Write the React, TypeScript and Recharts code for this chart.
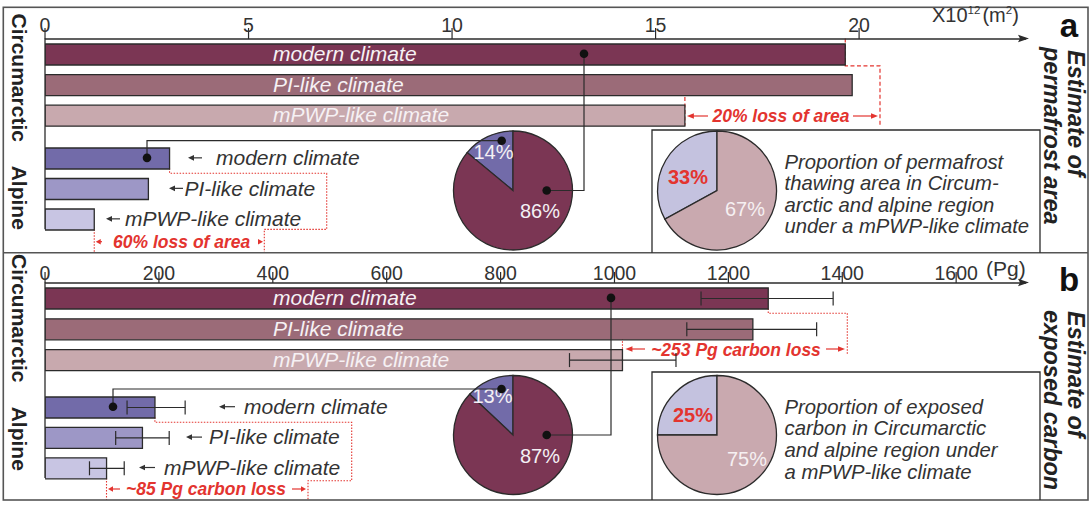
import React from 'react';
import { BarChart, Bar, XAxis, YAxis, Cell, ErrorBar, PieChart, Pie } from 'recharts';

// ---- data ----
const climates = ['modern climate', 'PI-like climate', 'mPWP-like climate'];

// a: permafrost area, x10^12 m2
const areaCircum = [19.66, 19.83, 15.72];
const areaAlpine = [3.06, 2.54, 1.21];
const areaTicks = [0, 5, 10, 15, 20];

// b: exposed carbon, Pg (bar value + error range)
const carbonCircum = [1270, 1243, 1014];
const carbonCircumLow = [1152, 1127, 921];
const carbonCircumHigh = [1384, 1355, 1108];
const carbonAlpine = [193, 171, 108];
const carbonAlpineLow = [144, 124, 78];
const carbonAlpineHigh = [246, 218, 139];
const carbonTicks = [0, 200, 400, 600, 800, 1000, 1200, 1400, 1600];

// pies: [alpine, circumarctic] and [thawed / exposed, rest]
const areaShare = [14, 86];
const areaThawed = [33, 67];
const carbonShare = [13, 87];
const carbonExposed = [25, 75];

// ---- styling / layout ----
const W = 1092;
const H = 508;
const FONT = '"Liberation Sans", Arial, Helvetica, sans-serif';
const INK = '#2b2b2b';
const RED = '#e3342f';
const circumColors = ['#7b3654', '#9b6b78', '#c8a9ae'];
const alpineColors = ['#726ba9', '#9d97c6', '#c8c5e3'];
const shareColors = ['#726ba9', '#7b3654'];
const insetColors = ['#c4c2df', '#c9a9af'];

const PLOT_L = 45;
const PLOT_R = 1026;
const PLOT_W = PLOT_R - PLOT_L;
const AREA_MAX = 24.1;
const CARBON_MAX = 1722.6;
const BAR_H = 21;
const AXIS_H = 30;
const DIVIDER = 252.7;
const BOTTOM = 500;

type Group = { top: number; band: number };
const A_CIRC: Group = { top: 38.5, band: 30.6 };
const A_ALP: Group = { top: 142.6, band: 30.5 };
const B_CIRC: Group = { top: 282.5, band: 30.8 };
const B_ALP: Group = { top: 391.5, band: 30.4 };

const xArea = (v: number) => PLOT_L + (v / AREA_MAX) * PLOT_W;
const xCarbon = (v: number) => PLOT_L + (v / CARBON_MAX) * PLOT_W;
const mid = (g: Group, i: number) => g.top + (i + 0.5) * g.band;
const barBot = (g: Group, i: number) => mid(g, i) + BAR_H / 2;

const PIE_R = 59.5;
const pieA = { cx: 513, cy: 190.5 };
const insetA = { cx: 717, cy: 190.5 };
const pieB = { cx: 513, cy: 435 };
const insetB = { cx: 717, cy: 435 };

function BarGroup({ group, values, low, high, colors, max, ticks, labelGap }: any) {
  const axis = !!ticks;
  const data = values.map((v: number, i: number) => ({
    name: climates[i],
    value: v,
    err: low ? [v - low[i], high[i] - v] : 0,
  }));
  const plotH = group.band * values.length;
  const height = plotH + (axis ? AXIS_H : 0);
  const top = group.top - (axis ? AXIS_H : 0);
  return (
    <div style={{ position: 'absolute', left: 0, top, width: W, height }}>
      <BarChart
        width={W}
        height={height}
        data={data}
        layout="vertical"
        margin={{ top: 0, right: W - PLOT_R, bottom: 0, left: PLOT_L }}
      >
        <XAxis
          type="number"
          orientation="top"
          domain={[0, max]}
          allowDataOverflow
          ticks={ticks || [0]}
          interval={0}
          hide={!axis}
          height={AXIS_H}
          axisLine={{ stroke: INK, strokeWidth: 1.3 }}
          tickLine={{ stroke: INK, strokeWidth: 1.2 }}
          tickSize={11}
          tick={(p: any) => (
            <text
              x={p.x}
              y={AXIS_H - labelGap}
              textAnchor="middle"
              fontFamily={FONT}
              fontSize={19.5}
              fill="#333"
            >
              {p.payload.value}
            </text>
          )}
        />
        <YAxis type="category" dataKey="name" hide />
        <Bar dataKey="value" barSize={BAR_H} isAnimationActive={false} stroke={INK} strokeWidth={1.3}>
          {data.map((d: any, i: number) => (
            <Cell key={d.name} fill={colors[i]} />
          ))}
          {low && (
            <ErrorBar dataKey="err" direction="x" width={7} stroke={INK} strokeWidth={1.2} />
          )}
        </Bar>
      </BarChart>
    </div>
  );
}

function pieData(vals: number[], colors: string[]) {
  return vals.map((v, i) => ({ name: String(i), value: v, fill: colors[i] }));
}

function SmallArrow({ x1, x2, y, color, head = 6 }: any) {
  // arrow head at x1, pointing away from x2
  const dir = x2 > x1 ? 1 : -1;
  return (
    <g>
      <line x1={x1 + dir * head * 0.6} y1={y} x2={x2} y2={y} stroke={color} strokeWidth={1.2} />
      <polygon
        points={`${x1},${y} ${x1 + dir * head},${y - 2.8} ${x1 + dir * head},${y + 2.8}`}
        fill={color}
      />
    </g>
  );
}

function VText({ x, y, size, children, weight = 'bold', italic = false }: any) {
  return (
    <text
      transform={`translate(${x},${y}) rotate(90)`}
      fontFamily={FONT}
      fontSize={size}
      fontWeight={weight}
      fontStyle={italic ? 'italic' : 'normal'}
      fill="#222"
    >
      {children}
    </text>
  );
}

export default function App() {
  const txt = { fontFamily: FONT } as const;
  const redText = { ...txt, fontSize: 17.5, fontWeight: 'bold', fontStyle: 'italic', fill: RED } as const;
  const dash = { stroke: RED, strokeWidth: 1.2, fill: 'none', strokeDasharray: '4 2.5' };
  const dot = { stroke: RED, strokeWidth: 1.1, fill: 'none', strokeDasharray: '1.5 1.5' };
  const link = { stroke: INK, strokeWidth: 1.2, fill: 'none' };

  const alpineLabelsA = [
    { a: 188, t: 216 },
    { a: 169, t: 184.5 },
    { a: 106, t: 125 },
  ];
  const alpineLabelsB = [
    { a: 219, t: 244 },
    { a: 186, t: 209 },
    { a: 139, t: 164 },
  ];
  const insetTextA = [
    'Proportion of permafrost',
    'thawing area in Circum-',
    'arctic and alpine region',
    'under a mPWP-like climate',
  ];
  const insetTextB = [
    'Proportion of exposed',
    'carbon in Circumarctic',
    'and alpine region under',
    'a mPWP-like climate',
  ];

  return (
    <div style={{ position: 'absolute', left: 0, top: 0, width: W, height: H, background: '#fff', overflow: 'hidden' }}>
      {/* red loss annotations, drawn below the bars */}
      <svg width={W} height={H} style={{ position: 'absolute', left: 0, top: 0 }}>
        {/* a, circumarctic */}
        <path d={`M${xArea(areaCircum[0])},${A_CIRC.top} V${barBot(A_CIRC, 0) + 1.5} H880 V${barBot(A_CIRC, 2)}`} {...dash} />
        <path d={`M${xArea(areaCircum[2])},${barBot(A_CIRC, 1) + 2} V${barBot(A_CIRC, 2)}`} {...dash} />
        <SmallArrow x1={xArea(areaCircum[2]) + 2} x2={708} y={116} color={RED} head={7} />
        <SmallArrow x1={878} x2={853} y={116} color={RED} head={7} />
        <text x={781} y={122} textAnchor="middle" {...redText}>20% loss of area</text>
        {/* a, alpine */}
        <path d={`M${xArea(areaAlpine[0])},${barBot(A_ALP, 0)} V173.3 H326.7 V${barBot(A_ALP, 2)} H264.3 V${DIVIDER}`} {...dot} />
        <path d={`M${xArea(areaAlpine[2])},${barBot(A_ALP, 2)} V${DIVIDER}`} {...dot} />
        <SmallArrow x1={xArea(areaAlpine[2]) + 1.5} x2={102} y={241.7} color={RED} head={5} />
        <SmallArrow x1={263} x2={258} y={241.7} color={RED} head={5} />
        <text x={181.7} y={247.8} textAnchor="middle" {...redText}>60% loss of area</text>
        {/* b, circumarctic */}
        <path d={`M${xCarbon(carbonCircum[0])},${barBot(B_CIRC, 0)} V313.3 H847.3 V355`} {...dot} />
        <path d={`M${xCarbon(carbonCircum[2])},338.3 V${barBot(B_CIRC, 2)}`} {...dot} />
        <SmallArrow x1={xCarbon(carbonCircum[2]) + 3} x2={645} y={349} color={RED} head={7} />
        <SmallArrow x1={845} x2={826} y={349} color={RED} head={7} />
        <text x={736} y={355.5} textAnchor="middle" {...redText}>~253 Pg carbon loss</text>
        {/* b, alpine */}
        <path d={`M${xCarbon(carbonAlpine[0])},${barBot(B_ALP, 0)} V422.3 H351.7 V480.7 H308 V${BOTTOM}`} {...dot} />
        <path d={`M${xCarbon(carbonAlpine[2])},${barBot(B_ALP, 2)} V${BOTTOM}`} {...dot} />
        <SmallArrow x1={xCarbon(carbonAlpine[2]) + 1.5} x2={120} y={489} color={RED} head={5} />
        <SmallArrow x1={306} x2={292} y={489} color={RED} head={5} />
        <text x={206} y={495} textAnchor="middle" {...redText}>~85 Pg carbon loss</text>
      </svg>

      <BarGroup group={A_CIRC} values={areaCircum} colors={circumColors} max={AREA_MAX} ticks={areaTicks} labelGap={7} />
      <BarGroup group={A_ALP} values={areaAlpine} colors={alpineColors} max={AREA_MAX} />
      <BarGroup
        group={B_CIRC}
        values={carbonCircum}
        low={carbonCircumLow}
        high={carbonCircumHigh}
        colors={circumColors}
        max={CARBON_MAX}
        ticks={carbonTicks}
        labelGap={3}
      />
      <BarGroup
        group={B_ALP}
        values={carbonAlpine}
        low={carbonAlpineLow}
        high={carbonAlpineHigh}
        colors={alpineColors}
        max={CARBON_MAX}
      />

      <div style={{ position: 'absolute', left: 0, top: 0 }}>
        <PieChart width={W} height={H} margin={{ top: 0, right: 0, bottom: 0, left: 0 }}>
          {[
            { c: pieA, d: pieData(areaShare, shareColors) },
            { c: insetA, d: pieData(areaThawed, insetColors) },
            { c: pieB, d: pieData(carbonShare, shareColors) },
            { c: insetB, d: pieData(carbonExposed, insetColors) },
          ].map((p, k) => (
            <Pie
              key={k}
              data={p.d}
              dataKey="value"
              cx={p.c.cx}
              cy={p.c.cy}
              outerRadius={PIE_R}
              startAngle={90}
              endAngle={450}
              stroke={INK}
              strokeWidth={1.3}
              label={false}
              labelLine={false}
              isAnimationActive={false}
            >
              {p.d.map((s) => (
                <Cell key={s.name} fill={s.fill} />
              ))}
            </Pie>
          ))}
        </PieChart>
      </div>

      {/* frame, connectors, labels */}
      <svg width={W} height={H} style={{ position: 'absolute', left: 0, top: 0 }}>
        <rect x={3.3} y={7.3} width={1084.7} height={BOTTOM - 7.3} fill="none" stroke="#555" strokeWidth={1.6} />
        <line x1={3.3} x2={1088} y1={DIVIDER} y2={DIVIDER} stroke="#555" strokeWidth={1.6} />

        {/* left value axes and arrow heads */}
        <line x1={PLOT_L} x2={PLOT_L} y1={A_CIRC.top} y2={barBot(A_ALP, 2)} stroke={INK} strokeWidth={1.3} />
        <line x1={PLOT_L} x2={PLOT_L} y1={B_CIRC.top} y2={barBot(B_ALP, 2)} stroke={INK} strokeWidth={1.3} />
        <polygon points={`1029,${A_CIRC.top} 1018,${A_CIRC.top - 3.8} 1020,${A_CIRC.top} 1018,${A_CIRC.top + 3.8}`} fill={INK} />
        <polygon points={`1029,${B_CIRC.top} 1018,${B_CIRC.top - 3.8} 1020,${B_CIRC.top} 1018,${B_CIRC.top + 3.8}`} fill={INK} />

        <text x={932} y={22} {...txt} fontSize={20} fill="#333">
          X10<tspan fontSize={11.5} dy={-8}>12</tspan>
          <tspan fontSize={20} dy={8} dx={2}>(m</tspan>
          <tspan fontSize={11.5} dy={-8}>2</tspan>
          <tspan fontSize={20} dy={8}>)</tspan>
        </text>
        <text x={986} y={276} {...txt} fontSize={21} fill="#333">(Pg)</text>

        <text x={1069} y={36.7} textAnchor="middle" {...txt} fontSize={33} fontWeight="bold" fill="#111">a</text>
        <text x={1069} y={291.3} textAnchor="middle" {...txt} fontSize={33} fontWeight="bold" fill="#111">b</text>

        <VText x={1067.5} y={50} size={23.5} italic>Estimate of</VText>
        <VText x={1044} y={47} size={23.5} italic>permafrost area</VText>
        <VText x={1067.5} y={311} size={23.5} italic>Estimate of</VText>
        <VText x={1044} y={310} size={23.5} italic>exposed carbon</VText>

        <VText x={11.5} y={13.5} size={21}>Circumarctic</VText>
        <VText x={11.5} y={165.7} size={21}>Alpine</VText>
        <VText x={11.5} y={254} size={21}>Circumarctic</VText>
        <VText x={11.5} y={406.7} size={21}>Alpine</VText>

        {/* labels inside circumarctic bars */}
        {climates.map((c, i) => (
          <g key={c}>
            <text x={273} y={mid(A_CIRC, i) + 7.3} {...txt} fontSize={21} fontStyle="italic" fill="#f6f1f4">{c}</text>
            <text x={273} y={mid(B_CIRC, i) + 7.3} {...txt} fontSize={21} fontStyle="italic" fill="#f6f1f4">{c}</text>
          </g>
        ))}

        {/* alpine labels with arrows */}
        {climates.map((c, i) => (
          <g key={c}>
            <SmallArrow x1={alpineLabelsA[i].a} x2={alpineLabelsA[i].a + 14} y={mid(A_ALP, i)} color="#333" head={6} />
            <text x={alpineLabelsA[i].t} y={mid(A_ALP, i) + 7.3} {...txt} fontSize={21} fontStyle="italic" fill="#333">{c}</text>
            <SmallArrow x1={alpineLabelsB[i].a} x2={alpineLabelsB[i].a + 16} y={mid(B_ALP, i)} color="#333" head={6} />
            <text x={alpineLabelsB[i].t} y={mid(B_ALP, i) + 7.3} {...txt} fontSize={21} fontStyle="italic" fill="#333">{c}</text>
          </g>
        ))}

        {/* inset boxes */}
        <path d={`M652,${DIVIDER} V130 H1040 V${DIVIDER}`} fill="none" stroke={INK} strokeWidth={1.3} />
        <path d={`M652,${BOTTOM} V372 H1040 V${BOTTOM}`} fill="none" stroke={INK} strokeWidth={1.3} />
        {insetTextA.map((l, i) => (
          <text key={l} x={784.5} y={168.5 + i * 21.6} {...txt} fontSize={20.3} fontStyle="italic" fill="#333">{l}</text>
        ))}
        {insetTextB.map((l, i) => (
          <text key={l} x={784.5} y={413.5 + i * 21.8} {...txt} fontSize={20.3} fontStyle="italic" fill="#333">{l}</text>
        ))}

        {/* pie percentages */}
        <text x={pieA.cx - 19.5} y={pieA.cy - 31.5} textAnchor="middle" {...txt} fontSize={20} fill="#f4f0f4">{areaShare[0]}%</text>
        <text x={pieA.cx + 27} y={pieA.cy + 27.5} textAnchor="middle" {...txt} fontSize={20} fill="#f4f0f4">{areaShare[1]}%</text>
        <text x={insetA.cx - 29} y={insetA.cy - 6.5} textAnchor="middle" {...txt} fontSize={20} fontWeight="bold" fill={RED}>{areaThawed[0]}%</text>
        <text x={insetA.cx + 28} y={insetA.cy + 25.5} textAnchor="middle" {...txt} fontSize={20} fill="#f6f0f2">{areaThawed[1]}%</text>
        <text x={pieB.cx - 20.5} y={pieB.cy - 32.5} textAnchor="middle" {...txt} fontSize={20} fill="#f4f0f4">{carbonShare[0]}%</text>
        <text x={pieB.cx + 27} y={pieB.cy + 28} textAnchor="middle" {...txt} fontSize={20} fill="#f4f0f4">{carbonShare[1]}%</text>
        <text x={insetB.cx - 24} y={insetB.cy - 13.3} textAnchor="middle" {...txt} fontSize={20} fontWeight="bold" fill={RED}>{carbonExposed[0]}%</text>
        <text x={insetB.cx + 30} y={insetB.cy + 31} textAnchor="middle" {...txt} fontSize={20} fill="#f6f0f2">{carbonExposed[1]}%</text>

        {/* connectors: circumarctic bar -> pie, pie -> alpine bar */}
        <path d={`M584,${mid(A_CIRC, 0)} V${pieA.cy} H${pieA.cx + 33.7}`} {...link} />
        <circle cx={584} cy={mid(A_CIRC, 0)} r={4.3} fill="#111" />
        <circle cx={pieA.cx + 33.7} cy={pieA.cy} r={4.3} fill="#111" />
        <path d={`M${pieA.cx - 11.3},${pieA.cy - 49.8} H147 V${mid(A_ALP, 0)}`} {...link} />
        <circle cx={pieA.cx - 11.3} cy={pieA.cy - 49.8} r={4.3} fill="#111" />
        <circle cx={147} cy={mid(A_ALP, 0)} r={4.3} fill="#111" />

        <path d={`M611,${mid(B_CIRC, 0)} V${pieB.cy} H${pieB.cx + 33.7}`} {...link} />
        <circle cx={611} cy={mid(B_CIRC, 0)} r={4.3} fill="#111" />
        <circle cx={pieB.cx + 33.7} cy={pieB.cy} r={4.3} fill="#111" />
        <path d={`M${pieB.cx - 11.5},${pieB.cy - 46} H113 V${mid(B_ALP, 0)}`} {...link} />
        <circle cx={pieB.cx - 11.5} cy={pieB.cy - 46} r={4.3} fill="#111" />
        <circle cx={113} cy={mid(B_ALP, 0)} r={4.3} fill="#111" />
      </svg>
    </div>
  );
}
